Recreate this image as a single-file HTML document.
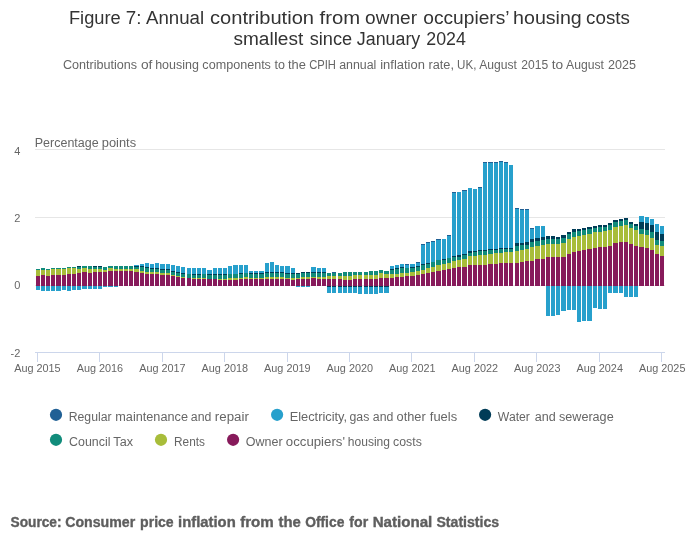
<!DOCTYPE html>
<html lang="en"><head><meta charset="utf-8"><title>Figure 7: Annual contribution from owner occupiers’ housing costs smallest since January 2024</title><style>html,body{margin:0;padding:0;background:#fff}svg{display:block}</style></head>
<body>
<svg width="700" height="549" viewBox="0 0 700 549">
<rect x="0" y="0" width="700" height="549" fill="#ffffff"/>
<g shape-rendering="crispEdges" stroke="#e6e6e6" stroke-width="1">
<line x1="35" y1="149.5" x2="665" y2="149.5"/>
<line x1="35" y1="217.5" x2="665" y2="217.5"/>
<line x1="35" y1="285.5" x2="665" y2="285.5"/>
</g>
<g shape-rendering="crispEdges" stroke="#ccd6eb" stroke-width="1">
<line x1="35" y1="352.5" x2="665" y2="352.5"/>
<line x1="37.5" y1="352" x2="37.5" y2="362"/>
<line x1="99.5" y1="352" x2="99.5" y2="362"/>
<line x1="162.5" y1="352" x2="162.5" y2="362"/>
<line x1="224.5" y1="352" x2="224.5" y2="362"/>
<line x1="287.5" y1="352" x2="287.5" y2="362"/>
<line x1="349.5" y1="352" x2="349.5" y2="362"/>
<line x1="411.5" y1="352" x2="411.5" y2="362"/>
<line x1="474.5" y1="352" x2="474.5" y2="362"/>
<line x1="536.5" y1="352" x2="536.5" y2="362"/>
<line x1="599.5" y1="352" x2="599.5" y2="362"/>
<line x1="661.5" y1="352" x2="661.5" y2="362"/>
</g>
<g shape-rendering="crispEdges">
<g fill="#118c7b">
<rect x="36" y="269" width="4" height="1"/>
<rect x="41" y="268" width="4" height="2"/>
<rect x="46" y="269" width="4" height="1"/>
<rect x="51" y="268" width="4" height="1"/>
<rect x="56" y="268" width="5" height="1"/>
<rect x="62" y="268" width="4" height="1"/>
<rect x="67" y="267" width="4" height="1"/>
<rect x="72" y="267" width="4" height="1"/>
<rect x="77" y="267" width="4" height="2"/>
<rect x="82" y="266" width="5" height="2"/>
<rect x="88" y="266" width="4" height="3"/>
<rect x="93" y="267" width="4" height="2"/>
<rect x="98" y="267" width="4" height="2"/>
<rect x="103" y="267" width="4" height="3"/>
<rect x="108" y="266" width="5" height="2"/>
<rect x="114" y="266" width="4" height="3"/>
<rect x="119" y="266" width="4" height="3"/>
<rect x="124" y="266" width="4" height="3"/>
<rect x="129" y="266" width="4" height="3"/>
<rect x="134" y="267" width="5" height="2"/>
<rect x="140" y="267" width="4" height="4"/>
<rect x="145" y="268" width="4" height="4"/>
<rect x="150" y="269" width="4" height="3"/>
<rect x="155" y="269" width="4" height="3"/>
<rect x="160" y="270" width="5" height="3"/>
<rect x="166" y="270" width="4" height="3"/>
<rect x="171" y="272" width="4" height="3"/>
<rect x="176" y="273" width="4" height="3"/>
<rect x="181" y="274" width="4" height="3"/>
<rect x="187" y="274" width="4" height="4"/>
<rect x="192" y="275" width="4" height="3"/>
<rect x="197" y="275" width="4" height="3"/>
<rect x="202" y="274" width="4" height="4"/>
<rect x="207" y="275" width="5" height="4"/>
<rect x="213" y="275" width="4" height="4"/>
<rect x="218" y="275" width="4" height="4"/>
<rect x="223" y="275" width="4" height="4"/>
<rect x="228" y="274" width="4" height="4"/>
<rect x="233" y="274" width="5" height="4"/>
<rect x="239" y="274" width="4" height="4"/>
<rect x="244" y="273" width="4" height="4"/>
<rect x="249" y="274" width="4" height="4"/>
<rect x="254" y="274" width="4" height="4"/>
<rect x="259" y="274" width="5" height="4"/>
<rect x="265" y="273" width="4" height="4"/>
<rect x="270" y="273" width="4" height="4"/>
<rect x="275" y="273" width="4" height="4"/>
<rect x="280" y="273" width="4" height="4"/>
<rect x="285" y="274" width="5" height="4"/>
<rect x="291" y="274" width="4" height="4"/>
<rect x="296" y="274" width="4" height="4"/>
<rect x="301" y="273" width="4" height="4"/>
<rect x="306" y="273" width="4" height="4"/>
<rect x="311" y="273" width="5" height="4"/>
<rect x="317" y="273" width="4" height="4"/>
<rect x="322" y="273" width="4" height="4"/>
<rect x="327" y="273" width="4" height="3"/>
<rect x="332" y="273" width="4" height="3"/>
<rect x="338" y="273" width="4" height="3"/>
<rect x="343" y="272" width="4" height="4"/>
<rect x="348" y="272" width="4" height="4"/>
<rect x="353" y="272" width="4" height="3"/>
<rect x="358" y="272" width="4" height="3"/>
<rect x="364" y="272" width="4" height="3"/>
<rect x="369" y="271" width="4" height="4"/>
<rect x="374" y="271" width="4" height="4"/>
<rect x="379" y="270" width="4" height="3"/>
<rect x="384" y="271" width="5" height="3"/>
<rect x="390" y="270" width="4" height="4"/>
<rect x="395" y="269" width="4" height="5"/>
<rect x="400" y="268" width="4" height="5"/>
<rect x="405" y="268" width="4" height="5"/>
<rect x="410" y="268" width="5" height="4"/>
<rect x="416" y="267" width="4" height="4"/>
<rect x="421" y="265" width="4" height="5"/>
<rect x="426" y="264" width="4" height="4"/>
<rect x="431" y="262" width="4" height="5"/>
<rect x="436" y="260" width="5" height="5"/>
<rect x="442" y="260" width="4" height="4"/>
<rect x="447" y="258" width="4" height="5"/>
<rect x="452" y="257" width="4" height="4"/>
<rect x="457" y="257" width="4" height="3"/>
<rect x="462" y="255" width="5" height="4"/>
<rect x="468" y="253" width="4" height="3"/>
<rect x="473" y="252" width="4" height="4"/>
<rect x="478" y="251" width="4" height="4"/>
<rect x="483" y="251" width="4" height="4"/>
<rect x="488" y="250" width="5" height="4"/>
<rect x="494" y="250" width="4" height="3"/>
<rect x="499" y="249" width="4" height="4"/>
<rect x="504" y="249" width="4" height="3"/>
<rect x="509" y="249" width="4" height="3"/>
<rect x="515" y="246" width="4" height="5"/>
<rect x="520" y="245" width="4" height="5"/>
<rect x="525" y="245" width="4" height="4"/>
<rect x="530" y="242" width="4" height="5"/>
<rect x="535" y="241" width="5" height="5"/>
<rect x="541" y="240" width="4" height="5"/>
<rect x="546" y="239" width="4" height="5"/>
<rect x="551" y="239" width="4" height="5"/>
<rect x="556" y="239" width="4" height="5"/>
<rect x="561" y="238" width="5" height="5"/>
<rect x="567" y="234" width="4" height="5"/>
<rect x="572" y="232" width="4" height="5"/>
<rect x="577" y="231" width="4" height="5"/>
<rect x="582" y="230" width="4" height="5"/>
<rect x="587" y="229" width="5" height="5"/>
<rect x="593" y="228" width="4" height="4"/>
<rect x="598" y="227" width="4" height="5"/>
<rect x="603" y="227" width="4" height="4"/>
<rect x="608" y="225" width="4" height="5"/>
<rect x="613" y="222" width="5" height="5"/>
<rect x="619" y="221" width="4" height="5"/>
<rect x="624" y="220" width="4" height="5"/>
<rect x="629" y="224" width="4" height="4"/>
<rect x="634" y="226" width="4" height="4"/>
<rect x="639" y="229" width="5" height="5"/>
<rect x="645" y="230" width="4" height="5"/>
<rect x="650" y="232" width="4" height="6"/>
<rect x="655" y="240" width="4" height="5"/>
<rect x="660" y="241" width="4" height="5"/>
</g>
<g fill="#a8bd3a">
<rect x="36" y="270" width="4" height="6"/>
<rect x="41" y="270" width="4" height="5"/>
<rect x="46" y="270" width="4" height="6"/>
<rect x="51" y="269" width="4" height="6"/>
<rect x="56" y="269" width="5" height="6"/>
<rect x="62" y="269" width="4" height="6"/>
<rect x="67" y="268" width="4" height="6"/>
<rect x="72" y="268" width="4" height="6"/>
<rect x="77" y="269" width="4" height="4"/>
<rect x="82" y="268" width="5" height="4"/>
<rect x="88" y="269" width="4" height="4"/>
<rect x="93" y="269" width="4" height="3"/>
<rect x="98" y="269" width="4" height="3"/>
<rect x="103" y="270" width="4" height="2"/>
<rect x="108" y="268" width="5" height="3"/>
<rect x="114" y="269" width="4" height="2"/>
<rect x="119" y="269" width="4" height="2"/>
<rect x="124" y="269" width="4" height="2"/>
<rect x="129" y="269" width="4" height="2"/>
<rect x="134" y="269" width="5" height="3"/>
<rect x="140" y="271" width="4" height="2"/>
<rect x="145" y="272" width="4" height="2"/>
<rect x="150" y="272" width="4" height="2"/>
<rect x="155" y="272" width="4" height="2"/>
<rect x="160" y="273" width="5" height="2"/>
<rect x="166" y="273" width="4" height="2"/>
<rect x="171" y="275" width="4" height="1"/>
<rect x="176" y="276" width="4" height="1"/>
<rect x="181" y="277" width="4" height="1"/>
<rect x="192" y="278" width="4" height="1"/>
<rect x="197" y="278" width="4" height="1"/>
<rect x="202" y="278" width="4" height="1"/>
<rect x="218" y="279" width="4" height="1"/>
<rect x="223" y="279" width="4" height="1"/>
<rect x="228" y="278" width="4" height="2"/>
<rect x="233" y="278" width="5" height="2"/>
<rect x="239" y="278" width="4" height="1"/>
<rect x="244" y="277" width="4" height="2"/>
<rect x="249" y="278" width="4" height="1"/>
<rect x="254" y="278" width="4" height="1"/>
<rect x="259" y="278" width="5" height="1"/>
<rect x="265" y="277" width="4" height="2"/>
<rect x="270" y="277" width="4" height="2"/>
<rect x="275" y="277" width="4" height="2"/>
<rect x="280" y="277" width="4" height="2"/>
<rect x="285" y="278" width="5" height="1"/>
<rect x="291" y="278" width="4" height="2"/>
<rect x="296" y="278" width="4" height="1"/>
<rect x="301" y="277" width="4" height="2"/>
<rect x="306" y="277" width="4" height="2"/>
<rect x="311" y="277" width="5" height="1"/>
<rect x="317" y="277" width="4" height="2"/>
<rect x="322" y="277" width="4" height="2"/>
<rect x="327" y="276" width="4" height="3"/>
<rect x="332" y="276" width="4" height="3"/>
<rect x="338" y="276" width="4" height="3"/>
<rect x="343" y="276" width="4" height="4"/>
<rect x="348" y="276" width="4" height="4"/>
<rect x="353" y="275" width="4" height="4"/>
<rect x="358" y="275" width="4" height="4"/>
<rect x="364" y="275" width="4" height="4"/>
<rect x="369" y="275" width="4" height="4"/>
<rect x="374" y="275" width="4" height="4"/>
<rect x="379" y="273" width="4" height="5"/>
<rect x="384" y="274" width="5" height="4"/>
<rect x="390" y="274" width="4" height="4"/>
<rect x="395" y="274" width="4" height="3"/>
<rect x="400" y="273" width="4" height="4"/>
<rect x="405" y="273" width="4" height="3"/>
<rect x="410" y="272" width="5" height="4"/>
<rect x="416" y="271" width="4" height="4"/>
<rect x="421" y="270" width="4" height="4"/>
<rect x="426" y="268" width="4" height="5"/>
<rect x="431" y="267" width="4" height="5"/>
<rect x="436" y="265" width="5" height="6"/>
<rect x="442" y="264" width="4" height="6"/>
<rect x="447" y="263" width="4" height="6"/>
<rect x="452" y="261" width="4" height="7"/>
<rect x="457" y="260" width="4" height="7"/>
<rect x="462" y="259" width="5" height="8"/>
<rect x="468" y="256" width="4" height="9"/>
<rect x="473" y="256" width="4" height="9"/>
<rect x="478" y="255" width="4" height="10"/>
<rect x="483" y="255" width="4" height="10"/>
<rect x="488" y="254" width="5" height="10"/>
<rect x="494" y="253" width="4" height="11"/>
<rect x="499" y="253" width="4" height="10"/>
<rect x="504" y="252" width="4" height="11"/>
<rect x="509" y="252" width="4" height="11"/>
<rect x="515" y="251" width="4" height="12"/>
<rect x="520" y="250" width="4" height="12"/>
<rect x="525" y="249" width="4" height="12"/>
<rect x="530" y="247" width="4" height="14"/>
<rect x="535" y="246" width="5" height="13"/>
<rect x="541" y="245" width="4" height="14"/>
<rect x="546" y="244" width="4" height="13"/>
<rect x="551" y="244" width="4" height="13"/>
<rect x="556" y="244" width="4" height="13"/>
<rect x="561" y="243" width="5" height="14"/>
<rect x="567" y="239" width="4" height="15"/>
<rect x="572" y="237" width="4" height="15"/>
<rect x="577" y="236" width="4" height="15"/>
<rect x="582" y="235" width="4" height="15"/>
<rect x="587" y="234" width="5" height="15"/>
<rect x="593" y="232" width="4" height="16"/>
<rect x="598" y="232" width="4" height="15"/>
<rect x="603" y="231" width="4" height="16"/>
<rect x="608" y="230" width="4" height="16"/>
<rect x="613" y="227" width="5" height="16"/>
<rect x="619" y="226" width="4" height="16"/>
<rect x="624" y="225" width="4" height="17"/>
<rect x="629" y="228" width="4" height="16"/>
<rect x="634" y="230" width="4" height="16"/>
<rect x="639" y="234" width="5" height="13"/>
<rect x="645" y="235" width="4" height="13"/>
<rect x="650" y="238" width="4" height="12"/>
<rect x="655" y="245" width="4" height="9"/>
<rect x="660" y="246" width="4" height="10"/>
</g>
<g fill="#871a5b">
<rect x="36" y="276" width="4" height="10"/>
<rect x="41" y="275" width="4" height="11"/>
<rect x="46" y="276" width="4" height="10"/>
<rect x="51" y="275" width="4" height="11"/>
<rect x="56" y="275" width="5" height="11"/>
<rect x="62" y="275" width="4" height="11"/>
<rect x="67" y="274" width="4" height="12"/>
<rect x="72" y="274" width="4" height="12"/>
<rect x="77" y="273" width="4" height="13"/>
<rect x="82" y="272" width="5" height="14"/>
<rect x="88" y="273" width="4" height="13"/>
<rect x="93" y="272" width="4" height="14"/>
<rect x="98" y="272" width="4" height="14"/>
<rect x="103" y="272" width="4" height="14"/>
<rect x="108" y="271" width="5" height="15"/>
<rect x="114" y="271" width="4" height="15"/>
<rect x="119" y="271" width="4" height="15"/>
<rect x="124" y="271" width="4" height="15"/>
<rect x="129" y="271" width="4" height="15"/>
<rect x="134" y="272" width="5" height="14"/>
<rect x="140" y="273" width="4" height="13"/>
<rect x="145" y="274" width="4" height="12"/>
<rect x="150" y="274" width="4" height="12"/>
<rect x="155" y="274" width="4" height="12"/>
<rect x="160" y="275" width="5" height="11"/>
<rect x="166" y="275" width="4" height="11"/>
<rect x="171" y="276" width="4" height="10"/>
<rect x="176" y="277" width="4" height="9"/>
<rect x="181" y="278" width="4" height="8"/>
<rect x="187" y="278" width="4" height="8"/>
<rect x="192" y="279" width="4" height="7"/>
<rect x="197" y="279" width="4" height="7"/>
<rect x="202" y="279" width="4" height="7"/>
<rect x="207" y="279" width="5" height="7"/>
<rect x="213" y="279" width="4" height="7"/>
<rect x="218" y="280" width="4" height="6"/>
<rect x="223" y="280" width="4" height="6"/>
<rect x="228" y="280" width="4" height="6"/>
<rect x="233" y="280" width="5" height="6"/>
<rect x="239" y="279" width="4" height="7"/>
<rect x="244" y="279" width="4" height="7"/>
<rect x="249" y="279" width="4" height="7"/>
<rect x="254" y="279" width="4" height="7"/>
<rect x="259" y="279" width="5" height="7"/>
<rect x="265" y="279" width="4" height="7"/>
<rect x="270" y="279" width="4" height="7"/>
<rect x="275" y="279" width="4" height="7"/>
<rect x="280" y="279" width="4" height="7"/>
<rect x="285" y="279" width="5" height="7"/>
<rect x="291" y="280" width="4" height="6"/>
<rect x="296" y="279" width="4" height="7"/>
<rect x="301" y="279" width="4" height="7"/>
<rect x="306" y="279" width="4" height="7"/>
<rect x="311" y="278" width="5" height="8"/>
<rect x="317" y="279" width="4" height="7"/>
<rect x="322" y="279" width="4" height="7"/>
<rect x="327" y="279" width="4" height="7"/>
<rect x="332" y="279" width="4" height="7"/>
<rect x="338" y="279" width="4" height="7"/>
<rect x="343" y="280" width="4" height="6"/>
<rect x="348" y="280" width="4" height="6"/>
<rect x="353" y="279" width="4" height="7"/>
<rect x="358" y="279" width="4" height="7"/>
<rect x="364" y="279" width="4" height="7"/>
<rect x="369" y="279" width="4" height="7"/>
<rect x="374" y="279" width="4" height="7"/>
<rect x="379" y="278" width="4" height="8"/>
<rect x="384" y="278" width="5" height="8"/>
<rect x="390" y="278" width="4" height="8"/>
<rect x="395" y="277" width="4" height="9"/>
<rect x="400" y="277" width="4" height="9"/>
<rect x="405" y="276" width="4" height="10"/>
<rect x="410" y="276" width="5" height="10"/>
<rect x="416" y="275" width="4" height="11"/>
<rect x="421" y="274" width="4" height="12"/>
<rect x="426" y="273" width="4" height="13"/>
<rect x="431" y="272" width="4" height="14"/>
<rect x="436" y="271" width="5" height="15"/>
<rect x="442" y="270" width="4" height="16"/>
<rect x="447" y="269" width="4" height="17"/>
<rect x="452" y="268" width="4" height="18"/>
<rect x="457" y="267" width="4" height="19"/>
<rect x="462" y="267" width="5" height="19"/>
<rect x="468" y="265" width="4" height="21"/>
<rect x="473" y="265" width="4" height="21"/>
<rect x="478" y="265" width="4" height="21"/>
<rect x="483" y="265" width="4" height="21"/>
<rect x="488" y="264" width="5" height="22"/>
<rect x="494" y="264" width="4" height="22"/>
<rect x="499" y="263" width="4" height="23"/>
<rect x="504" y="263" width="4" height="23"/>
<rect x="509" y="263" width="4" height="23"/>
<rect x="515" y="263" width="4" height="23"/>
<rect x="520" y="262" width="4" height="24"/>
<rect x="525" y="261" width="4" height="25"/>
<rect x="530" y="261" width="4" height="25"/>
<rect x="535" y="259" width="5" height="27"/>
<rect x="541" y="259" width="4" height="27"/>
<rect x="546" y="257" width="4" height="29"/>
<rect x="551" y="257" width="4" height="29"/>
<rect x="556" y="257" width="4" height="29"/>
<rect x="561" y="257" width="5" height="29"/>
<rect x="567" y="254" width="4" height="32"/>
<rect x="572" y="252" width="4" height="34"/>
<rect x="577" y="251" width="4" height="35"/>
<rect x="582" y="250" width="4" height="36"/>
<rect x="587" y="249" width="5" height="37"/>
<rect x="593" y="248" width="4" height="38"/>
<rect x="598" y="247" width="4" height="39"/>
<rect x="603" y="247" width="4" height="39"/>
<rect x="608" y="246" width="4" height="40"/>
<rect x="613" y="243" width="5" height="43"/>
<rect x="619" y="242" width="4" height="44"/>
<rect x="624" y="242" width="4" height="44"/>
<rect x="629" y="244" width="4" height="42"/>
<rect x="634" y="246" width="4" height="40"/>
<rect x="639" y="247" width="5" height="39"/>
<rect x="645" y="248" width="4" height="38"/>
<rect x="650" y="250" width="4" height="36"/>
<rect x="655" y="254" width="4" height="32"/>
<rect x="660" y="256" width="4" height="30"/>
</g>
<g fill="#27a0cc">
<rect x="36" y="286" width="4" height="4"/>
<rect x="41" y="286" width="4" height="5"/>
<rect x="46" y="286" width="4" height="5"/>
<rect x="51" y="286" width="4" height="5"/>
<rect x="56" y="286" width="5" height="5"/>
<rect x="62" y="286" width="4" height="4"/>
<rect x="67" y="286" width="4" height="5"/>
<rect x="72" y="286" width="4" height="4"/>
<rect x="77" y="286" width="4" height="4"/>
<rect x="82" y="286" width="5" height="3"/>
<rect x="88" y="286" width="4" height="3"/>
<rect x="93" y="286" width="4" height="3"/>
<rect x="98" y="286" width="4" height="3"/>
<rect x="103" y="286" width="4" height="1"/>
<rect x="108" y="286" width="5" height="1"/>
<rect x="114" y="286" width="4" height="1"/>
<rect x="134" y="265" width="5" height="1"/>
<rect x="140" y="264" width="4" height="2"/>
<rect x="145" y="263" width="4" height="4"/>
<rect x="150" y="264" width="4" height="4"/>
<rect x="155" y="263" width="4" height="5"/>
<rect x="160" y="264" width="5" height="5"/>
<rect x="166" y="264" width="4" height="5"/>
<rect x="171" y="265" width="4" height="6"/>
<rect x="176" y="266" width="4" height="6"/>
<rect x="181" y="267" width="4" height="6"/>
<rect x="187" y="268" width="4" height="6"/>
<rect x="192" y="268" width="4" height="6"/>
<rect x="197" y="268" width="4" height="6"/>
<rect x="202" y="268" width="4" height="6"/>
<rect x="207" y="270" width="5" height="4"/>
<rect x="213" y="268" width="4" height="6"/>
<rect x="218" y="268" width="4" height="6"/>
<rect x="223" y="268" width="4" height="6"/>
<rect x="228" y="266" width="4" height="8"/>
<rect x="233" y="265" width="5" height="9"/>
<rect x="239" y="265" width="4" height="8"/>
<rect x="244" y="265" width="4" height="8"/>
<rect x="249" y="271" width="4" height="2"/>
<rect x="254" y="271" width="4" height="2"/>
<rect x="259" y="271" width="5" height="2"/>
<rect x="265" y="263" width="4" height="9"/>
<rect x="270" y="262" width="4" height="10"/>
<rect x="275" y="265" width="4" height="7"/>
<rect x="280" y="266" width="4" height="6"/>
<rect x="285" y="266" width="5" height="7"/>
<rect x="291" y="268" width="4" height="5"/>
<rect x="296" y="286" width="4" height="1"/>
<rect x="301" y="286" width="4" height="1"/>
<rect x="306" y="286" width="4" height="1"/>
<rect x="311" y="267" width="5" height="5"/>
<rect x="317" y="268" width="4" height="4"/>
<rect x="322" y="268" width="4" height="4"/>
<rect x="327" y="287" width="4" height="6"/>
<rect x="332" y="287" width="4" height="6"/>
<rect x="338" y="287" width="4" height="6"/>
<rect x="343" y="287" width="4" height="6"/>
<rect x="348" y="287" width="4" height="6"/>
<rect x="353" y="287" width="4" height="6"/>
<rect x="358" y="287" width="4" height="7"/>
<rect x="364" y="287" width="4" height="7"/>
<rect x="369" y="287" width="4" height="7"/>
<rect x="374" y="287" width="4" height="7"/>
<rect x="379" y="287" width="4" height="6"/>
<rect x="384" y="287" width="5" height="6"/>
<rect x="390" y="266" width="4" height="3"/>
<rect x="395" y="265" width="4" height="3"/>
<rect x="400" y="264" width="4" height="3"/>
<rect x="405" y="265" width="4" height="3"/>
<rect x="410" y="264" width="5" height="3"/>
<rect x="416" y="263" width="4" height="3"/>
<rect x="421" y="245" width="4" height="19"/>
<rect x="426" y="243" width="4" height="20"/>
<rect x="431" y="242" width="4" height="20"/>
<rect x="436" y="240" width="5" height="20"/>
<rect x="442" y="239" width="4" height="20"/>
<rect x="447" y="236" width="4" height="22"/>
<rect x="452" y="193" width="4" height="63"/>
<rect x="457" y="192" width="4" height="63"/>
<rect x="462" y="191" width="5" height="63"/>
<rect x="468" y="188" width="4" height="63"/>
<rect x="473" y="189" width="4" height="62"/>
<rect x="478" y="188" width="4" height="62"/>
<rect x="483" y="163" width="4" height="87"/>
<rect x="488" y="163" width="5" height="86"/>
<rect x="494" y="163" width="4" height="86"/>
<rect x="499" y="162" width="4" height="86"/>
<rect x="504" y="163" width="4" height="85"/>
<rect x="509" y="165" width="4" height="83"/>
<rect x="515" y="209" width="4" height="34"/>
<rect x="520" y="210" width="4" height="33"/>
<rect x="525" y="210" width="4" height="32"/>
<rect x="530" y="229" width="4" height="10"/>
<rect x="535" y="226" width="5" height="12"/>
<rect x="541" y="226" width="4" height="11"/>
<rect x="546" y="286" width="4" height="30"/>
<rect x="551" y="286" width="4" height="30"/>
<rect x="556" y="286" width="4" height="29"/>
<rect x="561" y="286" width="5" height="25"/>
<rect x="567" y="286" width="4" height="24"/>
<rect x="572" y="286" width="4" height="24"/>
<rect x="577" y="286" width="4" height="36"/>
<rect x="582" y="286" width="4" height="35"/>
<rect x="587" y="286" width="5" height="35"/>
<rect x="593" y="286" width="4" height="22"/>
<rect x="598" y="286" width="4" height="23"/>
<rect x="603" y="286" width="4" height="23"/>
<rect x="608" y="286" width="4" height="7"/>
<rect x="613" y="286" width="5" height="7"/>
<rect x="619" y="286" width="4" height="7"/>
<rect x="624" y="286" width="4" height="11"/>
<rect x="629" y="286" width="4" height="11"/>
<rect x="634" y="286" width="4" height="11"/>
<rect x="639" y="216" width="5" height="6"/>
<rect x="645" y="217" width="4" height="6"/>
<rect x="650" y="219" width="4" height="6"/>
<rect x="655" y="224" width="4" height="8"/>
<rect x="660" y="226" width="4" height="8"/>
</g>
<g fill="#003c57">
<rect x="77" y="266" width="4" height="1"/>
<rect x="93" y="266" width="4" height="1"/>
<rect x="98" y="266" width="4" height="1"/>
<rect x="134" y="266" width="5" height="1"/>
<rect x="140" y="266" width="4" height="1"/>
<rect x="145" y="267" width="4" height="1"/>
<rect x="150" y="268" width="4" height="1"/>
<rect x="155" y="268" width="4" height="1"/>
<rect x="160" y="269" width="5" height="1"/>
<rect x="166" y="269" width="4" height="1"/>
<rect x="171" y="271" width="4" height="1"/>
<rect x="176" y="272" width="4" height="1"/>
<rect x="181" y="273" width="4" height="1"/>
<rect x="192" y="274" width="4" height="1"/>
<rect x="197" y="274" width="4" height="1"/>
<rect x="207" y="274" width="5" height="1"/>
<rect x="213" y="274" width="4" height="1"/>
<rect x="218" y="274" width="4" height="1"/>
<rect x="223" y="274" width="4" height="1"/>
<rect x="239" y="273" width="4" height="1"/>
<rect x="249" y="273" width="4" height="1"/>
<rect x="254" y="273" width="4" height="1"/>
<rect x="259" y="273" width="5" height="1"/>
<rect x="265" y="272" width="4" height="1"/>
<rect x="270" y="272" width="4" height="1"/>
<rect x="275" y="272" width="4" height="1"/>
<rect x="280" y="272" width="4" height="1"/>
<rect x="285" y="273" width="5" height="1"/>
<rect x="291" y="273" width="4" height="1"/>
<rect x="296" y="273" width="4" height="1"/>
<rect x="301" y="272" width="4" height="1"/>
<rect x="306" y="272" width="4" height="1"/>
<rect x="311" y="272" width="5" height="1"/>
<rect x="317" y="272" width="4" height="1"/>
<rect x="322" y="272" width="4" height="1"/>
<rect x="327" y="286" width="4" height="1"/>
<rect x="332" y="286" width="4" height="1"/>
<rect x="338" y="286" width="4" height="1"/>
<rect x="343" y="286" width="4" height="1"/>
<rect x="348" y="286" width="4" height="1"/>
<rect x="353" y="286" width="4" height="1"/>
<rect x="358" y="286" width="4" height="1"/>
<rect x="364" y="286" width="4" height="1"/>
<rect x="369" y="286" width="4" height="1"/>
<rect x="374" y="286" width="4" height="1"/>
<rect x="379" y="286" width="4" height="1"/>
<rect x="384" y="286" width="5" height="1"/>
<rect x="390" y="269" width="4" height="1"/>
<rect x="395" y="268" width="4" height="1"/>
<rect x="400" y="267" width="4" height="1"/>
<rect x="410" y="267" width="5" height="1"/>
<rect x="416" y="266" width="4" height="1"/>
<rect x="421" y="264" width="4" height="1"/>
<rect x="426" y="263" width="4" height="1"/>
<rect x="442" y="259" width="4" height="1"/>
<rect x="452" y="256" width="4" height="1"/>
<rect x="457" y="255" width="4" height="2"/>
<rect x="462" y="254" width="5" height="1"/>
<rect x="468" y="251" width="4" height="2"/>
<rect x="473" y="251" width="4" height="1"/>
<rect x="478" y="250" width="4" height="1"/>
<rect x="483" y="250" width="4" height="1"/>
<rect x="488" y="249" width="5" height="1"/>
<rect x="494" y="249" width="4" height="1"/>
<rect x="499" y="248" width="4" height="1"/>
<rect x="504" y="248" width="4" height="1"/>
<rect x="509" y="248" width="4" height="1"/>
<rect x="515" y="243" width="4" height="3"/>
<rect x="520" y="243" width="4" height="2"/>
<rect x="525" y="242" width="4" height="3"/>
<rect x="530" y="239" width="4" height="3"/>
<rect x="535" y="238" width="5" height="3"/>
<rect x="541" y="237" width="4" height="3"/>
<rect x="546" y="236" width="4" height="3"/>
<rect x="551" y="236" width="4" height="3"/>
<rect x="556" y="237" width="4" height="2"/>
<rect x="561" y="235" width="5" height="3"/>
<rect x="567" y="232" width="4" height="2"/>
<rect x="572" y="229" width="4" height="3"/>
<rect x="577" y="229" width="4" height="2"/>
<rect x="582" y="228" width="4" height="2"/>
<rect x="587" y="227" width="5" height="2"/>
<rect x="593" y="226" width="4" height="2"/>
<rect x="598" y="225" width="4" height="2"/>
<rect x="603" y="225" width="4" height="2"/>
<rect x="608" y="223" width="4" height="2"/>
<rect x="613" y="220" width="5" height="2"/>
<rect x="619" y="219" width="4" height="2"/>
<rect x="624" y="218" width="4" height="2"/>
<rect x="629" y="222" width="4" height="2"/>
<rect x="634" y="224" width="4" height="2"/>
<rect x="639" y="222" width="5" height="7"/>
<rect x="645" y="223" width="4" height="7"/>
<rect x="650" y="225" width="4" height="7"/>
<rect x="655" y="232" width="4" height="8"/>
<rect x="660" y="234" width="4" height="7"/>
</g>
<g fill="#206095">
<rect x="332" y="272" width="4" height="1"/>
<rect x="405" y="264" width="4" height="1"/>
<rect x="416" y="262" width="4" height="1"/>
<rect x="421" y="244" width="4" height="1"/>
<rect x="426" y="242" width="4" height="1"/>
<rect x="431" y="241" width="4" height="1"/>
<rect x="436" y="239" width="5" height="1"/>
<rect x="447" y="235" width="4" height="1"/>
<rect x="452" y="192" width="4" height="1"/>
<rect x="462" y="190" width="5" height="1"/>
<rect x="478" y="187" width="4" height="1"/>
<rect x="483" y="162" width="4" height="1"/>
<rect x="488" y="162" width="5" height="1"/>
<rect x="494" y="162" width="4" height="1"/>
<rect x="499" y="161" width="4" height="1"/>
<rect x="504" y="162" width="4" height="1"/>
<rect x="515" y="208" width="4" height="1"/>
<rect x="520" y="209" width="4" height="1"/>
<rect x="525" y="209" width="4" height="1"/>
<rect x="530" y="228" width="4" height="1"/>
</g>
</g>
<g font-family="'Liberation Sans', Arial, sans-serif">
<text y="23.6" font-size="18" fill="#333333">
<tspan x="68.97" textLength="51.77" lengthAdjust="spacingAndGlyphs">Figure</tspan> <tspan x="125.82" textLength="15.68" lengthAdjust="spacingAndGlyphs">7:</tspan> <tspan x="146.00" textLength="58.13" lengthAdjust="spacingAndGlyphs">Annual</tspan> <tspan x="210.07" textLength="103.96" lengthAdjust="spacingAndGlyphs">contribution</tspan> <tspan x="319.50" textLength="40.55" lengthAdjust="spacingAndGlyphs">from</tspan> <tspan x="365.10" textLength="51.89" lengthAdjust="spacingAndGlyphs">owner</tspan> <tspan x="423.31" textLength="85.55" lengthAdjust="spacingAndGlyphs">occupiers’</tspan> <tspan x="513.07" textLength="68.73" lengthAdjust="spacingAndGlyphs">housing</tspan> <tspan x="586.11" textLength="43.77" lengthAdjust="spacingAndGlyphs">costs</tspan>
</text>
<text y="45" font-size="18" fill="#333333">
<tspan x="233.50" textLength="69.73" lengthAdjust="spacingAndGlyphs">smallest</tspan> <tspan x="309.72" textLength="42.42" lengthAdjust="spacingAndGlyphs">since</tspan> <tspan x="356.82" textLength="63.48" lengthAdjust="spacingAndGlyphs">January</tspan> <tspan x="426.27" textLength="39.58" lengthAdjust="spacingAndGlyphs">2024</tspan>
</text>
<text y="69.2" font-size="12" fill="#666666">
<tspan x="62.97" textLength="74.15" lengthAdjust="spacingAndGlyphs">Contributions</tspan> <tspan x="140.93" textLength="11.50" lengthAdjust="spacingAndGlyphs">of</tspan> <tspan x="155.17" textLength="43.68" lengthAdjust="spacingAndGlyphs">housing</tspan> <tspan x="202.38" textLength="68.54" lengthAdjust="spacingAndGlyphs">components</tspan> <tspan x="274.54" textLength="10.45" lengthAdjust="spacingAndGlyphs">to</tspan> <tspan x="288.04" textLength="17.92" lengthAdjust="spacingAndGlyphs">the</tspan> <tspan x="309.14" textLength="26.76" lengthAdjust="spacingAndGlyphs">CPIH</tspan> <tspan x="339.18" textLength="37.21" lengthAdjust="spacingAndGlyphs">annual</tspan> <tspan x="380.24" textLength="44.60" lengthAdjust="spacingAndGlyphs">inflation</tspan> <tspan x="428.50" textLength="25.49" lengthAdjust="spacingAndGlyphs">rate,</tspan> <tspan x="457.03" textLength="19.37" lengthAdjust="spacingAndGlyphs">UK,</tspan> <tspan x="479.30" textLength="37.68" lengthAdjust="spacingAndGlyphs">August</tspan> <tspan x="521.30" textLength="26.88" lengthAdjust="spacingAndGlyphs">2015</tspan> <tspan x="551.73" textLength="11.41" lengthAdjust="spacingAndGlyphs">to</tspan> <tspan x="566.10" textLength="37.89" lengthAdjust="spacingAndGlyphs">August</tspan> <tspan x="607.97" textLength="27.92" lengthAdjust="spacingAndGlyphs">2025</tspan>
</text>
<text y="146.8" font-size="12" fill="#666666">
<tspan x="34.81" textLength="63.83" lengthAdjust="spacingAndGlyphs">Percentage</tspan> <tspan x="101.80" textLength="34.33" lengthAdjust="spacingAndGlyphs">points</tspan>
</text>
<text y="421" font-size="12" fill="#666666">
<tspan x="68.73" textLength="42.87" lengthAdjust="spacingAndGlyphs">Regular</tspan> <tspan x="115.31" textLength="72.65" lengthAdjust="spacingAndGlyphs">maintenance</tspan> <tspan x="190.89" textLength="20.56" lengthAdjust="spacingAndGlyphs">and</tspan> <tspan x="214.87" textLength="33.95" lengthAdjust="spacingAndGlyphs">repair</tspan>
</text>
<text y="421" font-size="12" fill="#666666">
<tspan x="289.69" textLength="57.42" lengthAdjust="spacingAndGlyphs">Electricity,</tspan> <tspan x="349.49" textLength="19.82" lengthAdjust="spacingAndGlyphs">gas</tspan> <tspan x="372.79" textLength="20.56" lengthAdjust="spacingAndGlyphs">and</tspan> <tspan x="396.57" textLength="29.14" lengthAdjust="spacingAndGlyphs">other</tspan> <tspan x="429.84" textLength="27.29" lengthAdjust="spacingAndGlyphs">fuels</tspan>
</text>
<text y="421" font-size="12" fill="#666666">
<tspan x="497.85" textLength="32.05" lengthAdjust="spacingAndGlyphs">Water</tspan> <tspan x="534.78" textLength="20.98" lengthAdjust="spacingAndGlyphs">and</tspan> <tspan x="558.98" textLength="54.67" lengthAdjust="spacingAndGlyphs">sewerage</tspan>
</text>
<text y="446" font-size="12" fill="#666666">
<tspan x="69.08" textLength="41.41" lengthAdjust="spacingAndGlyphs">Council</tspan> <tspan x="113.34" textLength="19.67" lengthAdjust="spacingAndGlyphs">Tax</tspan>
</text>
<text y="446" font-size="12" fill="#666666">
<tspan x="174.06" textLength="30.93" lengthAdjust="spacingAndGlyphs">Rents</tspan>
</text>
<text y="446" font-size="12" fill="#666666">
<tspan x="245.83" textLength="36.78" lengthAdjust="spacingAndGlyphs">Owner</tspan> <tspan x="285.85" textLength="59.10" lengthAdjust="spacingAndGlyphs">occupiers&#x27;</tspan> <tspan x="347.80" textLength="42.23" lengthAdjust="spacingAndGlyphs">housing</tspan> <tspan x="393.09" textLength="28.72" lengthAdjust="spacingAndGlyphs">costs</tspan>
</text>
<text y="527.0" font-size="14" fill="#5e5e5e" font-weight="bold" stroke="#5e5e5e" stroke-width="0.35">
<tspan x="10.49" textLength="51.05" lengthAdjust="spacingAndGlyphs">Source:</tspan> <tspan x="65.26" textLength="69.94" lengthAdjust="spacingAndGlyphs">Consumer</tspan> <tspan x="140.12" textLength="33.53" lengthAdjust="spacingAndGlyphs">price</tspan> <tspan x="178.07" textLength="57.64" lengthAdjust="spacingAndGlyphs">inflation</tspan> <tspan x="240.16" textLength="33.66" lengthAdjust="spacingAndGlyphs">from</tspan> <tspan x="278.50" textLength="22.27" lengthAdjust="spacingAndGlyphs">the</tspan> <tspan x="305.17" textLength="39.18" lengthAdjust="spacingAndGlyphs">Office</tspan> <tspan x="349.38" textLength="18.82" lengthAdjust="spacingAndGlyphs">for</tspan> <tspan x="372.66" textLength="59.64" lengthAdjust="spacingAndGlyphs">National</tspan> <tspan x="436.48" textLength="62.69" lengthAdjust="spacingAndGlyphs">Statistics</tspan>
</text>
<text x="20.3" y="155" font-size="11" fill="#666666" text-anchor="end" font-weight="normal">4</text>
<text x="20.3" y="222" font-size="11" fill="#666666" text-anchor="end" font-weight="normal">2</text>
<text x="20.3" y="289" font-size="11" fill="#666666" text-anchor="end" font-weight="normal">0</text>
<text x="20.3" y="357" font-size="11" fill="#666666" text-anchor="end" font-weight="normal">-2</text>
<text x="37.4" y="371.9" font-size="11" fill="#666666" text-anchor="middle" font-weight="normal" textLength="46.5" lengthAdjust="spacingAndGlyphs">Aug 2015</text>
<text x="99.9" y="371.9" font-size="11" fill="#666666" text-anchor="middle" font-weight="normal" textLength="46.5" lengthAdjust="spacingAndGlyphs">Aug 2016</text>
<text x="162.4" y="371.9" font-size="11" fill="#666666" text-anchor="middle" font-weight="normal" textLength="46.5" lengthAdjust="spacingAndGlyphs">Aug 2017</text>
<text x="224.8" y="371.9" font-size="11" fill="#666666" text-anchor="middle" font-weight="normal" textLength="46.5" lengthAdjust="spacingAndGlyphs">Aug 2018</text>
<text x="287.3" y="371.9" font-size="11" fill="#666666" text-anchor="middle" font-weight="normal" textLength="46.5" lengthAdjust="spacingAndGlyphs">Aug 2019</text>
<text x="349.8" y="371.9" font-size="11" fill="#666666" text-anchor="middle" font-weight="normal" textLength="46.5" lengthAdjust="spacingAndGlyphs">Aug 2020</text>
<text x="412.3" y="371.9" font-size="11" fill="#666666" text-anchor="middle" font-weight="normal" textLength="46.5" lengthAdjust="spacingAndGlyphs">Aug 2021</text>
<text x="474.8" y="371.9" font-size="11" fill="#666666" text-anchor="middle" font-weight="normal" textLength="46.5" lengthAdjust="spacingAndGlyphs">Aug 2022</text>
<text x="537.2" y="371.9" font-size="11" fill="#666666" text-anchor="middle" font-weight="normal" textLength="46.5" lengthAdjust="spacingAndGlyphs">Aug 2023</text>
<text x="599.7" y="371.9" font-size="11" fill="#666666" text-anchor="middle" font-weight="normal" textLength="46.5" lengthAdjust="spacingAndGlyphs">Aug 2024</text>
<text x="662.2" y="371.9" font-size="11" fill="#666666" text-anchor="middle" font-weight="normal" textLength="46.5" lengthAdjust="spacingAndGlyphs">Aug 2025</text>
<circle cx="56" cy="414.8" r="6.1" fill="#206095"/>
<circle cx="277.1" cy="414.8" r="6.1" fill="#27a0cc"/>
<circle cx="485.1" cy="414.8" r="6.1" fill="#003c57"/>
<circle cx="56" cy="439.8" r="6.1" fill="#118c7b"/>
<circle cx="161" cy="439.8" r="6.1" fill="#a8bd3a"/>
<circle cx="233.1" cy="439.8" r="6.1" fill="#871a5b"/>
</g>
</svg>
</body></html>
